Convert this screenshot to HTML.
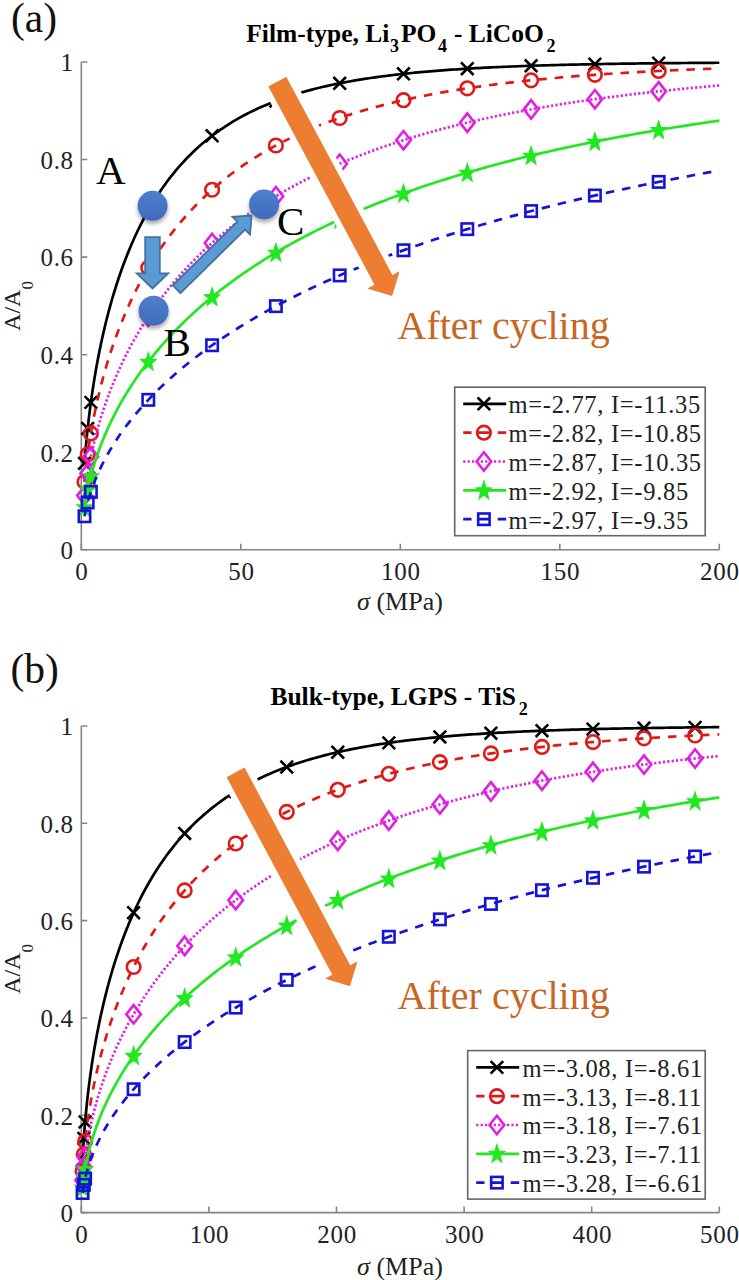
<!DOCTYPE html>
<html><head><meta charset="utf-8"><style>
html,body{margin:0;padding:0;background:#fff;width:739px;height:1280px;overflow:hidden}
svg{display:block}
text{font-family:"Liberation Serif",serif;fill:#222}
.tk{font-size:25px;letter-spacing:0.7px}
.yl{font-size:24px}
.xl{font-size:26px}
.lg{font-size:24.5px;letter-spacing:0.7px}
.big{font-size:41px;fill:#000}
.or{fill:#c8661f;font-size:40px}
.lab{font-size:41.5px;fill:#111}
.ttl{font-size:25.5px;font-weight:bold;fill:#000}
.sub{font-size:18px}
</style></head><body>
<svg width="739" height="1280" viewBox="0 0 739 1280">
<defs>
<linearGradient id="bg" x1="0" y1="0" x2="0" y2="1"><stop offset="0" stop-color="#4f7fcf"/><stop offset="1" stop-color="#3e6bbd"/></linearGradient>
<filter id="sh" x="-50%" y="-50%" width="200%" height="200%"><feGaussianBlur in="SourceAlpha" stdDeviation="2"/><feOffset dy="2.5"/><feComponentTransfer><feFuncA type="linear" slope="0.35"/></feComponentTransfer><feMerge><feMergeNode/><feMergeNode in="SourceGraphic"/></feMerge></filter>
</defs>
<rect width="739" height="1280" fill="#fff"/>
<path d="M81.3 62L81.3 549.8L719.3 549.8" stroke="#858585" stroke-width="1.6" fill="none"/>
<path d="M81.3 549.8h6M81.3 452.24h6M81.3 354.68h6M81.3 257.12h6M81.3 159.56h6M81.3 62h6M81.3 549.8v-6M240.8 549.8v-6M400.3 549.8v-6M559.8 549.8v-6M719.3 549.8v-6" stroke="#858585" stroke-width="1.6" fill="none"/>
<text x="73.8" y="559.1" text-anchor="end" class="tk">0</text>
<text x="73.8" y="461.54" text-anchor="end" class="tk">0.2</text>
<text x="73.8" y="363.98" text-anchor="end" class="tk">0.4</text>
<text x="73.8" y="266.42" text-anchor="end" class="tk">0.6</text>
<text x="73.8" y="168.86" text-anchor="end" class="tk">0.8</text>
<text x="73.8" y="71.3" text-anchor="end" class="tk">1</text>
<text x="81.9" y="580.3" text-anchor="middle" class="tk">0</text>
<text x="241.4" y="580.3" text-anchor="middle" class="tk">50</text>
<text x="400.9" y="580.3" text-anchor="middle" class="tk">100</text>
<text x="560.4" y="580.3" text-anchor="middle" class="tk">150</text>
<text x="719.9" y="580.3" text-anchor="middle" class="tk">200</text>
<path d="M84.49 463.28L84.98 457.04L85.46 451.21L85.95 445.74L86.44 440.57L86.92 435.66L87.41 430.97L87.9 426.49L88.38 422.18L88.87 418.03L89.36 414.04L89.84 410.17L90.33 406.43L90.82 402.8L91.3 399.28L91.79 395.85L92.28 392.52L92.76 389.27L93.25 386.1L93.74 383.01L94.22 379.99L94.71 377.04L95.2 374.15L95.68 371.32L96.17 368.55L96.66 365.84L97.14 363.17L97.63 360.56L98.12 358L98.6 355.49L99.09 353.01L99.57 350.59L100.06 348.2L100.55 345.85L101.03 343.54L101.52 341.27L102.01 339.03L102.49 336.83L102.98 334.67L103.47 332.53L103.95 330.43L104.44 328.35L104.93 326.31L105.41 324.29L105.9 322.3L106.39 320.34L106.87 318.41L107.36 316.5L107.85 314.62L108.33 312.76L108.82 310.92L109.31 309.11L109.79 307.32L110.28 305.55L110.77 303.8L111.25 302.08L111.74 300.37L112.23 298.69L112.71 297.02L113.2 295.38L116.25 285.48L119.29 276.24L122.34 267.57L125.38 259.41L128.43 251.72L131.47 244.45L134.52 237.56L137.57 231.02L140.61 224.82L143.66 218.91L146.7 213.28L149.75 207.91L152.79 202.79L155.84 197.89L158.89 193.2L161.93 188.71L164.98 184.42L168.02 180.3L171.07 176.34L174.11 172.55L177.16 168.91L180.21 165.41L183.25 162.04L186.3 158.8L189.34 155.69L192.39 152.69L195.43 149.8L198.48 147.02L201.53 144.34L204.57 141.75L207.62 139.26L210.66 136.86L213.71 134.54L216.75 132.3L219.8 130.14L222.85 128.05L225.89 126.03L228.94 124.09L231.98 122.2L235.03 120.39L238.07 118.63L241.12 116.93L244.17 115.29L247.21 113.7L250.26 112.16L253.3 110.67L256.35 109.23L259.39 107.84L262.44 106.49L265.49 105.18L268.53 103.92L271.58 102.69L274.62 101.51L277.67 100.36L280.72 99.24L283.76 98.17L286.81 97.12L289.85 96.11L292.9 95.13L295.94 94.18L298.99 93.25L302.04 92.36L305.08 91.49L308.13 90.65L311.17 89.84L314.22 89.05L317.26 88.28L320.31 87.54L323.36 86.81L326.4 86.11L329.45 85.44L332.49 84.78L335.54 84.14L338.58 83.52L341.63 82.91L344.68 82.33L347.72 81.76L350.77 81.21L353.81 80.68L356.86 80.16L359.9 79.65L362.95 79.16L366 78.69L369.04 78.23L372.09 77.78L375.13 77.34L378.18 76.92L381.22 76.51L384.27 76.11L387.32 75.72L390.36 75.35L393.41 74.98L396.45 74.63L399.5 74.28L402.54 73.94L405.59 73.62L408.64 73.3L411.68 72.99L414.73 72.7L417.77 72.4L420.82 72.12L423.86 71.85L426.91 71.58L429.96 71.32L433 71.07L436.05 70.82L439.09 70.59L442.14 70.35L445.18 70.13L448.23 69.91L451.28 69.7L454.32 69.49L457.37 69.29L460.41 69.09L463.46 68.9L466.5 68.72L469.55 68.54L472.6 68.36L475.64 68.19L478.69 68.03L481.73 67.87L484.78 67.71L487.82 67.56L490.87 67.41L493.92 67.27L496.96 67.13L500.01 66.99L503.05 66.86L506.1 66.73L509.14 66.6L512.19 66.48L515.24 66.36L518.28 66.25L521.33 66.13L524.37 66.02L527.42 65.92L530.46 65.81L533.51 65.71L536.56 65.62L539.6 65.52L542.65 65.43L545.69 65.34L548.74 65.25L551.78 65.16L554.83 65.08L557.88 65L560.92 64.92L563.97 64.84L567.01 64.77L570.06 64.7L573.11 64.63L576.15 64.56L579.2 64.49L582.24 64.42L585.29 64.36L588.33 64.3L591.38 64.24L594.43 64.18L597.47 64.12L600.52 64.07L603.56 64.01L606.61 63.96L609.65 63.91L612.7 63.86L615.75 63.81L618.79 63.77L621.84 63.72L624.88 63.67L627.93 63.63L630.97 63.59L634.02 63.55L637.07 63.51L640.11 63.47L643.16 63.43L646.2 63.39L649.25 63.36L652.29 63.32L655.34 63.29L658.39 63.25L661.43 63.22L664.48 63.19L667.52 63.16L670.57 63.13L673.61 63.1L676.66 63.07L679.71 63.04L682.75 63.02L685.8 62.99L688.84 62.97L691.89 62.94L694.93 62.92L697.98 62.89L701.03 62.87L704.07 62.85L707.12 62.83L710.16 62.8L713.21 62.78L716.25 62.76L719.3 62.74" stroke="#000000" stroke-width="2.7" fill="none"/>
<path d="M78.19 456.98L90.79 469.58M78.19 469.58L90.79 456.98" stroke="#000000" stroke-width="2.6" fill="none"/>
<path d="M81.38 422.16L93.98 434.76M81.38 434.76L93.98 422.16" stroke="#000000" stroke-width="2.6" fill="none"/>
<path d="M84.57 396.1L97.17 408.7M84.57 408.7L97.17 396.1" stroke="#000000" stroke-width="2.6" fill="none"/>
<path d="M141.99 204.15L154.59 216.75M141.99 216.75L154.59 204.15" stroke="#000000" stroke-width="2.6" fill="none"/>
<path d="M205.79 129.46L218.39 142.06M205.79 142.06L218.39 129.46" stroke="#000000" stroke-width="2.6" fill="none"/>
<path d="M269.59 94.72L282.19 107.32M269.59 107.32L282.19 94.72" stroke="#000000" stroke-width="2.6" fill="none"/>
<path d="M333.39 77L345.99 89.6M333.39 89.6L345.99 77" stroke="#000000" stroke-width="2.6" fill="none"/>
<path d="M397.19 67.54L409.79 80.14M397.19 80.14L409.79 67.54" stroke="#000000" stroke-width="2.6" fill="none"/>
<path d="M460.99 62.37L473.59 74.97M460.99 74.97L473.59 62.37" stroke="#000000" stroke-width="2.6" fill="none"/>
<path d="M524.79 59.49L537.39 72.09M524.79 72.09L537.39 59.49" stroke="#000000" stroke-width="2.6" fill="none"/>
<path d="M588.59 57.87L601.19 70.47M588.59 70.47L601.19 57.87" stroke="#000000" stroke-width="2.6" fill="none"/>
<path d="M652.39 56.95L664.99 69.55M652.39 69.55L664.99 56.95" stroke="#000000" stroke-width="2.6" fill="none"/>
<path d="M84.49 481.95L84.98 477.02L85.46 472.41L85.95 468.07L86.44 463.97L86.92 460.07L87.41 456.34L87.9 452.76L88.38 449.32L88.87 446.01L89.36 442.81L89.84 439.71L90.33 436.7L90.82 433.79L91.3 430.95L91.79 428.19L92.28 425.49L92.76 422.86L93.25 420.3L93.74 417.79L94.22 415.33L94.71 412.93L95.2 410.58L95.68 408.27L96.17 406L96.66 403.78L97.14 401.6L97.63 399.46L98.12 397.35L98.6 395.28L99.09 393.24L99.57 391.23L100.06 389.26L100.55 387.31L101.03 385.4L101.52 383.51L102.01 381.65L102.49 379.81L102.98 378L103.47 376.22L103.95 374.45L104.44 372.72L104.93 371L105.41 369.3L105.9 367.63L106.39 365.98L106.87 364.34L107.36 362.73L107.85 361.13L108.33 359.55L108.82 357.99L109.31 356.45L109.79 354.92L110.28 353.42L110.77 351.92L111.25 350.44L111.74 348.98L112.23 347.54L112.71 346.1L113.2 344.69L116.25 336.12L119.29 328.04L122.34 320.39L125.38 313.12L128.43 306.21L131.47 299.61L134.52 293.3L137.57 287.26L140.61 281.47L143.66 275.91L146.7 270.56L149.75 265.41L152.79 260.44L155.84 255.65L158.89 251.03L161.93 246.56L164.98 242.24L168.02 238.06L171.07 234.01L174.11 230.09L177.16 226.29L180.21 222.6L183.25 219.02L186.3 215.54L189.34 212.17L192.39 208.89L195.43 205.7L198.48 202.6L201.53 199.59L204.57 196.66L207.62 193.8L210.66 191.02L213.71 188.31L216.75 185.68L219.8 183.11L222.85 180.6L225.89 178.16L228.94 175.78L231.98 173.46L235.03 171.19L238.07 168.98L241.12 166.82L244.17 164.71L247.21 162.66L250.26 160.65L253.3 158.69L256.35 156.78L259.39 154.9L262.44 153.08L265.49 151.29L268.53 149.54L271.58 147.84L274.62 146.17L277.67 144.54L280.72 142.94L283.76 141.38L286.81 139.86L289.85 138.37L292.9 136.91L295.94 135.48L298.99 134.08L302.04 132.71L305.08 131.37L308.13 130.06L311.17 128.78L314.22 127.53L317.26 126.3L320.31 125.09L323.36 123.92L326.4 122.76L329.45 121.63L332.49 120.52L335.54 119.44L338.58 118.38L341.63 117.34L344.68 116.32L347.72 115.32L350.77 114.34L353.81 113.38L356.86 112.44L359.9 111.52L362.95 110.62L366 109.74L369.04 108.87L372.09 108.02L375.13 107.19L378.18 106.37L381.22 105.57L384.27 104.78L387.32 104.01L390.36 103.26L393.41 102.52L396.45 101.79L399.5 101.08L402.54 100.38L405.59 99.7L408.64 99.03L411.68 98.37L414.73 97.72L417.77 97.09L420.82 96.47L423.86 95.86L426.91 95.26L429.96 94.67L433 94.09L436.05 93.53L439.09 92.97L442.14 92.43L445.18 91.9L448.23 91.37L451.28 90.86L454.32 90.35L457.37 89.86L460.41 89.37L463.46 88.89L466.5 88.42L469.55 87.96L472.6 87.51L475.64 87.07L478.69 86.64L481.73 86.21L484.78 85.79L487.82 85.38L490.87 84.97L493.92 84.58L496.96 84.19L500.01 83.81L503.05 83.43L506.1 83.06L509.14 82.7L512.19 82.34L515.24 81.99L518.28 81.65L521.33 81.32L524.37 80.98L527.42 80.66L530.46 80.34L533.51 80.03L536.56 79.72L539.6 79.42L542.65 79.12L545.69 78.83L548.74 78.54L551.78 78.26L554.83 77.99L557.88 77.72L560.92 77.45L563.97 77.19L567.01 76.93L570.06 76.68L573.11 76.43L576.15 76.19L579.2 75.95L582.24 75.71L585.29 75.48L588.33 75.25L591.38 75.03L594.43 74.81L597.47 74.6L600.52 74.38L603.56 74.18L606.61 73.97L609.65 73.77L612.7 73.57L615.75 73.38L618.79 73.19L621.84 73L624.88 72.82L627.93 72.64L630.97 72.46L634.02 72.29L637.07 72.11L640.11 71.95L643.16 71.78L646.2 71.62L649.25 71.46L652.29 71.3L655.34 71.15L658.39 70.99L661.43 70.84L664.48 70.7L667.52 70.55L670.57 70.41L673.61 70.27L676.66 70.13L679.71 70L682.75 69.87L685.8 69.74L688.84 69.61L691.89 69.48L694.93 69.36L697.98 69.24L701.03 69.12L704.07 69L707.12 68.89L710.16 68.77L713.21 68.66L716.25 68.55L719.3 68.44" stroke="#e01818" stroke-width="2.7" fill="none" stroke-dasharray="8.5 8"/>
<circle cx="84.49" cy="481.95" r="6.8" stroke="#e01818" stroke-width="2.6" fill="none"/>
<circle cx="87.68" cy="454.33" r="6.8" stroke="#e01818" stroke-width="2.6" fill="none"/>
<circle cx="90.87" cy="433.47" r="6.8" stroke="#e01818" stroke-width="2.6" fill="none"/>
<circle cx="148.29" cy="267.85" r="6.8" stroke="#e01818" stroke-width="2.6" fill="none"/>
<circle cx="212.09" cy="189.74" r="6.8" stroke="#e01818" stroke-width="2.6" fill="none"/>
<circle cx="275.89" cy="145.49" r="6.8" stroke="#e01818" stroke-width="2.6" fill="none"/>
<circle cx="339.69" cy="118" r="6.8" stroke="#e01818" stroke-width="2.6" fill="none"/>
<circle cx="403.49" cy="100.17" r="6.8" stroke="#e01818" stroke-width="2.6" fill="none"/>
<circle cx="467.29" cy="88.31" r="6.8" stroke="#e01818" stroke-width="2.6" fill="none"/>
<circle cx="531.09" cy="80.28" r="6.8" stroke="#e01818" stroke-width="2.6" fill="none"/>
<circle cx="594.89" cy="74.78" r="6.8" stroke="#e01818" stroke-width="2.6" fill="none"/>
<circle cx="658.69" cy="70.98" r="6.8" stroke="#e01818" stroke-width="2.6" fill="none"/>
<path d="M84.49 495.59L84.98 491.64L85.46 487.94L85.95 484.45L86.44 481.15L86.92 478.01L87.41 475.01L87.9 472.12L88.38 469.35L88.87 466.67L89.36 464.08L89.84 461.58L90.33 459.14L90.82 456.78L91.3 454.48L91.79 452.23L92.28 450.04L92.76 447.91L93.25 445.82L93.74 443.77L94.22 441.77L94.71 439.81L95.2 437.89L95.68 436L96.17 434.15L96.66 432.33L97.14 430.54L97.63 428.78L98.12 427.05L98.6 425.35L99.09 423.67L99.57 422.02L100.06 420.4L100.55 418.79L101.03 417.21L101.52 415.65L102.01 414.12L102.49 412.6L102.98 411.1L103.47 409.62L103.95 408.16L104.44 406.71L104.93 405.29L105.41 403.88L105.9 402.49L106.39 401.11L106.87 399.75L107.36 398.4L107.85 397.07L108.33 395.75L108.82 394.44L109.31 393.15L109.79 391.87L110.28 390.61L110.77 389.35L111.25 388.11L111.74 386.88L112.23 385.67L112.71 384.46L113.2 383.27L116.25 376.02L119.29 369.15L122.34 362.62L125.38 356.37L128.43 350.4L131.47 344.67L134.52 339.17L137.57 333.87L140.61 328.75L143.66 323.82L146.7 319.05L149.75 314.43L152.79 309.95L155.84 305.61L158.89 301.4L161.93 297.31L164.98 293.33L168.02 289.46L171.07 285.69L174.11 282.02L177.16 278.44L180.21 274.95L183.25 271.55L186.3 268.23L189.34 264.99L192.39 261.82L195.43 258.72L198.48 255.7L201.53 252.74L204.57 249.84L207.62 247.01L210.66 244.23L213.71 241.52L216.75 238.86L219.8 236.25L222.85 233.7L225.89 231.2L228.94 228.75L231.98 226.34L235.03 223.98L238.07 221.67L241.12 219.4L244.17 217.17L247.21 214.98L250.26 212.84L253.3 210.73L256.35 208.66L259.39 206.62L262.44 204.63L265.49 202.67L268.53 200.74L271.58 198.84L274.62 196.98L277.67 195.15L280.72 193.35L283.76 191.58L286.81 189.85L289.85 188.14L292.9 186.45L295.94 184.8L298.99 183.17L302.04 181.57L305.08 179.99L308.13 178.44L311.17 176.92L314.22 175.42L317.26 173.94L320.31 172.48L323.36 171.05L326.4 169.64L329.45 168.25L332.49 166.89L335.54 165.54L338.58 164.21L341.63 162.91L344.68 161.62L347.72 160.36L350.77 159.11L353.81 157.88L356.86 156.67L359.9 155.48L362.95 154.3L366 153.14L369.04 152L372.09 150.88L375.13 149.77L378.18 148.67L381.22 147.6L384.27 146.53L387.32 145.49L390.36 144.46L393.41 143.44L396.45 142.44L399.5 141.45L402.54 140.47L405.59 139.51L408.64 138.56L411.68 137.63L414.73 136.71L417.77 135.8L420.82 134.9L423.86 134.02L426.91 133.14L429.96 132.28L433 131.44L436.05 130.6L439.09 129.77L442.14 128.96L445.18 128.15L448.23 127.36L451.28 126.58L454.32 125.81L457.37 125.05L460.41 124.29L463.46 123.55L466.5 122.82L469.55 122.1L472.6 121.39L475.64 120.68L478.69 119.99L481.73 119.3L484.78 118.63L487.82 117.96L490.87 117.3L493.92 116.65L496.96 116.01L500.01 115.38L503.05 114.75L506.1 114.14L509.14 113.53L512.19 112.92L515.24 112.33L518.28 111.74L521.33 111.17L524.37 110.59L527.42 110.03L530.46 109.47L533.51 108.92L536.56 108.38L539.6 107.84L542.65 107.31L545.69 106.79L548.74 106.28L551.78 105.77L554.83 105.26L557.88 104.77L560.92 104.27L563.97 103.79L567.01 103.31L570.06 102.84L573.11 102.37L576.15 101.91L579.2 101.45L582.24 101L585.29 100.56L588.33 100.12L591.38 99.69L594.43 99.26L597.47 98.83L600.52 98.42L603.56 98L606.61 97.6L609.65 97.19L612.7 96.79L615.75 96.4L618.79 96.01L621.84 95.63L624.88 95.25L627.93 94.87L630.97 94.5L634.02 94.14L637.07 93.78L640.11 93.42L643.16 93.07L646.2 92.72L649.25 92.38L652.29 92.04L655.34 91.7L658.39 91.37L661.43 91.04L664.48 90.71L667.52 90.39L670.57 90.08L673.61 89.76L676.66 89.46L679.71 89.15L682.75 88.85L685.8 88.55L688.84 88.25L691.89 87.96L694.93 87.68L697.98 87.39L701.03 87.11L704.07 86.83L707.12 86.56L710.16 86.29L713.21 86.02L716.25 85.75L719.3 85.49" stroke="#e020e0" stroke-width="2.7" fill="none" stroke-dasharray="2.2 2.2"/>
<path d="M84.49 486.39L91.79 495.59L84.49 504.79L77.19 495.59Z" stroke="#e020e0" stroke-width="2.6" fill="none"/>
<path d="M87.68 464.19L94.98 473.39L87.68 482.59L80.38 473.39Z" stroke="#e020e0" stroke-width="2.6" fill="none"/>
<path d="M90.87 447.32L98.17 456.52L90.87 465.72L83.57 456.52Z" stroke="#e020e0" stroke-width="2.6" fill="none"/>
<path d="M148.29 307.42L155.59 316.62L148.29 325.82L140.99 316.62Z" stroke="#e020e0" stroke-width="2.6" fill="none"/>
<path d="M212.09 233.76L219.39 242.96L212.09 252.16L204.79 242.96Z" stroke="#e020e0" stroke-width="2.6" fill="none"/>
<path d="M275.89 187.02L283.19 196.22L275.89 205.42L268.59 196.22Z" stroke="#e020e0" stroke-width="2.6" fill="none"/>
<path d="M339.69 154.54L346.99 163.74L339.69 172.94L332.39 163.74Z" stroke="#e020e0" stroke-width="2.6" fill="none"/>
<path d="M403.49 130.97L410.79 140.17L403.49 149.37L396.19 140.17Z" stroke="#e020e0" stroke-width="2.6" fill="none"/>
<path d="M467.29 113.43L474.59 122.63L467.29 131.83L459.99 122.63Z" stroke="#e020e0" stroke-width="2.6" fill="none"/>
<path d="M531.09 100.16L538.39 109.36L531.09 118.56L523.79 109.36Z" stroke="#e020e0" stroke-width="2.6" fill="none"/>
<path d="M594.89 89.99L602.19 99.19L594.89 108.39L587.59 99.19Z" stroke="#e020e0" stroke-width="2.6" fill="none"/>
<path d="M658.69 82.13L665.99 91.33L658.69 100.53L651.39 91.33Z" stroke="#e020e0" stroke-width="2.6" fill="none"/>
<path d="M84.49 507.12L84.98 503.99L85.46 501.07L85.95 498.32L86.44 495.71L86.92 493.22L87.41 490.84L87.9 488.56L88.38 486.36L88.87 484.23L89.36 482.18L89.84 480.19L90.33 478.25L90.82 476.37L91.3 474.54L91.79 472.76L92.28 471.02L92.76 469.31L93.25 467.65L93.74 466.02L94.22 464.42L94.71 462.85L95.2 461.32L95.68 459.81L96.17 458.33L96.66 456.87L97.14 455.44L97.63 454.03L98.12 452.64L98.6 451.27L99.09 449.93L99.57 448.6L100.06 447.3L100.55 446.01L101.03 444.73L101.52 443.48L102.01 442.24L102.49 441.02L102.98 439.81L103.47 438.62L103.95 437.44L104.44 436.27L104.93 435.12L105.41 433.98L105.9 432.85L106.39 431.74L106.87 430.63L107.36 429.54L107.85 428.46L108.33 427.39L108.82 426.33L109.31 425.28L109.79 424.24L110.28 423.21L110.77 422.19L111.25 421.18L111.74 420.18L112.23 419.19L112.71 418.2L113.2 417.23L116.25 411.31L119.29 405.67L122.34 400.29L125.38 395.13L128.43 390.17L131.47 385.4L134.52 380.81L137.57 376.36L140.61 372.06L143.66 367.89L146.7 363.85L149.75 359.92L152.79 356.1L155.84 352.39L158.89 348.77L161.93 345.24L164.98 341.79L168.02 338.43L171.07 335.14L174.11 331.93L177.16 328.79L180.21 325.72L183.25 322.71L186.3 319.76L189.34 316.87L192.39 314.04L195.43 311.27L198.48 308.54L201.53 305.87L204.57 303.24L207.62 300.67L210.66 298.13L213.71 295.65L216.75 293.2L219.8 290.8L222.85 288.43L225.89 286.11L228.94 283.82L231.98 281.57L235.03 279.35L238.07 277.17L241.12 275.02L244.17 272.91L247.21 270.82L250.26 268.77L253.3 266.75L256.35 264.75L259.39 262.79L262.44 260.85L265.49 258.94L268.53 257.06L271.58 255.2L274.62 253.37L277.67 251.56L280.72 249.78L283.76 248.02L286.81 246.29L289.85 244.57L292.9 242.88L295.94 241.22L298.99 239.57L302.04 237.94L305.08 236.34L308.13 234.75L311.17 233.18L314.22 231.64L317.26 230.11L320.31 228.6L323.36 227.11L326.4 225.63L329.45 224.18L332.49 222.74L335.54 221.32L338.58 219.91L341.63 218.52L344.68 217.15L347.72 215.79L350.77 214.45L353.81 213.12L356.86 211.81L359.9 210.52L362.95 209.23L366 207.97L369.04 206.71L372.09 205.47L375.13 204.24L378.18 203.03L381.22 201.83L384.27 200.64L387.32 199.47L390.36 198.31L393.41 197.16L396.45 196.02L399.5 194.9L402.54 193.78L405.59 192.68L408.64 191.59L411.68 190.51L414.73 189.44L417.77 188.39L420.82 187.34L423.86 186.3L426.91 185.28L429.96 184.26L433 183.26L436.05 182.27L439.09 181.28L442.14 180.31L445.18 179.34L448.23 178.39L451.28 177.44L454.32 176.5L457.37 175.58L460.41 174.66L463.46 173.75L466.5 172.85L469.55 171.96L472.6 171.07L475.64 170.2L478.69 169.33L481.73 168.47L484.78 167.62L487.82 166.78L490.87 165.95L493.92 165.12L496.96 164.3L500.01 163.49L503.05 162.69L506.1 161.89L509.14 161.11L512.19 160.32L515.24 159.55L518.28 158.78L521.33 158.03L524.37 157.27L527.42 156.53L530.46 155.79L533.51 155.06L536.56 154.33L539.6 153.61L542.65 152.9L545.69 152.19L548.74 151.49L551.78 150.8L554.83 150.11L557.88 149.43L560.92 148.76L563.97 148.09L567.01 147.43L570.06 146.77L573.11 146.12L576.15 145.47L579.2 144.83L582.24 144.2L585.29 143.57L588.33 142.95L591.38 142.33L594.43 141.72L597.47 141.11L600.52 140.51L603.56 139.91L606.61 139.32L609.65 138.74L612.7 138.15L615.75 137.58L618.79 137.01L621.84 136.44L624.88 135.88L627.93 135.32L630.97 134.77L634.02 134.22L637.07 133.68L640.11 133.14L643.16 132.61L646.2 132.08L649.25 131.56L652.29 131.04L655.34 130.52L658.39 130.01L661.43 129.5L664.48 129L667.52 128.5L670.57 128.01L673.61 127.52L676.66 127.03L679.71 126.55L682.75 126.07L685.8 125.59L688.84 125.12L691.89 124.66L694.93 124.19L697.98 123.74L701.03 123.28L704.07 122.83L707.12 122.38L710.16 121.94L713.21 121.5L716.25 121.06L719.3 120.63" stroke="#22e822" stroke-width="2.7" fill="none"/>
<path d="M84.49 499.42L86.24 504.89L91.2 505.15L87.32 508.8L88.64 514.43L84.49 511.22L80.34 514.43L81.66 508.8L77.78 505.15L82.74 504.89Z" stroke="#22e822" stroke-width="2" fill="#22e822" stroke-linejoin="miter"/>
<path d="M87.68 481.86L89.43 487.33L94.39 487.59L90.51 491.24L91.83 496.87L87.68 493.66L83.53 496.87L84.85 491.24L80.97 487.59L85.93 487.33Z" stroke="#22e822" stroke-width="2" fill="#22e822" stroke-linejoin="miter"/>
<path d="M90.87 468.47L92.62 473.94L97.58 474.2L93.7 477.85L95.02 483.48L90.87 480.27L86.72 483.48L88.04 477.85L84.16 474.2L89.12 473.94Z" stroke="#22e822" stroke-width="2" fill="#22e822" stroke-linejoin="miter"/>
<path d="M148.29 354.09L150.04 359.56L155 359.82L151.12 363.47L152.44 369.1L148.29 365.89L144.14 369.1L145.46 363.47L141.58 359.82L146.54 359.56Z" stroke="#22e822" stroke-width="2" fill="#22e822" stroke-linejoin="miter"/>
<path d="M212.09 289.26L213.84 294.73L218.8 295L214.92 298.64L216.24 304.28L212.09 301.06L207.94 304.28L209.26 298.64L205.38 295L210.34 294.73Z" stroke="#22e822" stroke-width="2" fill="#22e822" stroke-linejoin="miter"/>
<path d="M275.89 244.92L277.64 250.39L282.6 250.65L278.72 254.3L280.04 259.93L275.89 256.72L271.74 259.93L273.06 254.3L269.18 250.65L274.14 250.39Z" stroke="#22e822" stroke-width="2" fill="#22e822" stroke-linejoin="miter"/>
<path d="M339.69 211.7L341.44 217.17L346.4 217.44L342.52 221.09L343.84 226.72L339.69 223.5L335.54 226.72L336.86 221.09L332.98 217.44L337.94 217.17Z" stroke="#22e822" stroke-width="2" fill="#22e822" stroke-linejoin="miter"/>
<path d="M403.49 185.74L405.24 191.21L410.2 191.47L406.32 195.12L407.64 200.75L403.49 197.54L399.34 200.75L400.66 195.12L396.78 191.47L401.74 191.21Z" stroke="#22e822" stroke-width="2" fill="#22e822" stroke-linejoin="miter"/>
<path d="M467.29 164.92L469.04 170.39L474 170.65L470.12 174.3L471.44 179.93L467.29 176.72L463.14 179.93L464.46 174.3L460.58 170.65L465.54 170.39Z" stroke="#22e822" stroke-width="2" fill="#22e822" stroke-linejoin="miter"/>
<path d="M531.09 147.94L532.84 153.41L537.8 153.67L533.92 157.32L535.24 162.95L531.09 159.74L526.94 162.95L528.26 157.32L524.38 153.67L529.34 153.41Z" stroke="#22e822" stroke-width="2" fill="#22e822" stroke-linejoin="miter"/>
<path d="M594.89 133.93L596.64 139.39L601.6 139.66L597.72 143.31L599.04 148.94L594.89 145.73L590.74 148.94L592.06 143.31L588.18 139.66L593.14 139.39Z" stroke="#22e822" stroke-width="2" fill="#22e822" stroke-linejoin="miter"/>
<path d="M658.69 122.26L660.44 127.73L665.4 127.99L661.52 131.64L662.84 137.27L658.69 134.06L654.54 137.27L655.86 131.64L651.98 127.99L656.94 127.73Z" stroke="#22e822" stroke-width="2" fill="#22e822" stroke-linejoin="miter"/>
<path d="M84.49 516.27L84.98 513.81L85.46 511.5L85.95 509.34L86.44 507.28L86.92 505.32L87.41 503.44L87.9 501.64L88.38 499.91L88.87 498.23L89.36 496.61L89.84 495.04L90.33 493.51L90.82 492.02L91.3 490.58L91.79 489.16L92.28 487.78L92.76 486.44L93.25 485.12L93.74 483.83L94.22 482.56L94.71 481.32L95.2 480.1L95.68 478.9L96.17 477.73L96.66 476.57L97.14 475.44L97.63 474.32L98.12 473.21L98.6 472.13L99.09 471.06L99.57 470L100.06 468.96L100.55 467.94L101.03 466.92L101.52 465.92L102.01 464.94L102.49 463.96L102.98 463L103.47 462.05L103.95 461.11L104.44 460.18L104.93 459.25L105.41 458.34L105.9 457.44L106.39 456.55L106.87 455.67L107.36 454.8L107.85 453.93L108.33 453.07L108.82 452.23L109.31 451.39L109.79 450.55L110.28 449.73L110.77 448.91L111.25 448.1L111.74 447.3L112.23 446.5L112.71 445.71L113.2 444.93L116.25 440.16L119.29 435.62L122.34 431.27L125.38 427.09L128.43 423.07L131.47 419.19L134.52 415.44L137.57 411.81L140.61 408.29L143.66 404.87L146.7 401.55L149.75 398.31L152.79 395.16L155.84 392.08L158.89 389.08L161.93 386.14L164.98 383.27L168.02 380.46L171.07 377.71L174.11 375.02L177.16 372.38L180.21 369.79L183.25 367.25L186.3 364.75L189.34 362.3L192.39 359.9L195.43 357.53L198.48 355.21L201.53 352.92L204.57 350.67L207.62 348.45L210.66 346.27L213.71 344.12L216.75 342.01L219.8 339.92L222.85 337.87L225.89 335.84L228.94 333.84L231.98 331.87L235.03 329.93L238.07 328.01L241.12 326.12L244.17 324.26L247.21 322.41L250.26 320.59L253.3 318.79L256.35 317.02L259.39 315.27L262.44 313.53L265.49 311.82L268.53 310.13L271.58 308.46L274.62 306.81L277.67 305.17L280.72 303.56L283.76 301.96L286.81 300.38L289.85 298.82L292.9 297.27L295.94 295.74L298.99 294.23L302.04 292.73L305.08 291.25L308.13 289.78L311.17 288.33L314.22 286.89L317.26 285.47L320.31 284.06L323.36 282.67L326.4 281.29L329.45 279.92L332.49 278.57L335.54 277.23L338.58 275.9L341.63 274.58L344.68 273.28L347.72 271.99L350.77 270.71L353.81 269.44L356.86 268.18L359.9 266.94L362.95 265.7L366 264.48L369.04 263.27L372.09 262.07L375.13 260.88L378.18 259.7L381.22 258.53L384.27 257.37L387.32 256.22L390.36 255.08L393.41 253.95L396.45 252.82L399.5 251.71L402.54 250.61L405.59 249.52L408.64 248.43L411.68 247.36L414.73 246.29L417.77 245.23L420.82 244.18L423.86 243.14L426.91 242.11L429.96 241.08L433 240.07L436.05 239.06L439.09 238.06L442.14 237.06L445.18 236.08L448.23 235.1L451.28 234.13L454.32 233.17L457.37 232.21L460.41 231.26L463.46 230.32L466.5 229.39L469.55 228.46L472.6 227.54L475.64 226.62L478.69 225.72L481.73 224.82L484.78 223.92L487.82 223.04L490.87 222.16L493.92 221.28L496.96 220.42L500.01 219.55L503.05 218.7L506.1 217.85L509.14 217.01L512.19 216.17L515.24 215.34L518.28 214.51L521.33 213.69L524.37 212.88L527.42 212.07L530.46 211.27L533.51 210.47L536.56 209.68L539.6 208.89L542.65 208.11L545.69 207.34L548.74 206.57L551.78 205.8L554.83 205.04L557.88 204.29L560.92 203.54L563.97 202.79L567.01 202.05L570.06 201.32L573.11 200.59L576.15 199.86L579.2 199.14L582.24 198.43L585.29 197.72L588.33 197.01L591.38 196.31L594.43 195.61L597.47 194.92L600.52 194.23L603.56 193.55L606.61 192.87L609.65 192.19L612.7 191.52L615.75 190.86L618.79 190.2L621.84 189.54L624.88 188.89L627.93 188.24L630.97 187.59L634.02 186.95L637.07 186.31L640.11 185.68L643.16 185.05L646.2 184.43L649.25 183.8L652.29 183.19L655.34 182.57L658.39 181.96L661.43 181.36L664.48 180.76L667.52 180.16L670.57 179.56L673.61 178.97L676.66 178.38L679.71 177.8L682.75 177.22L685.8 176.64L688.84 176.07L691.89 175.5L694.93 174.93L697.98 174.37L701.03 173.81L704.07 173.25L707.12 172.7L710.16 172.15L713.21 171.6L716.25 171.06L719.3 170.52" stroke="#1414d8" stroke-width="2.7" fill="none" stroke-dasharray="8.5 8"/>
<rect x="78.79" y="510.57" width="11.4" height="11.4" stroke="#1414d8" stroke-width="2.6" fill="none"/>
<rect x="81.98" y="496.73" width="11.4" height="11.4" stroke="#1414d8" stroke-width="2.6" fill="none"/>
<rect x="85.17" y="486.16" width="11.4" height="11.4" stroke="#1414d8" stroke-width="2.6" fill="none"/>
<rect x="142.59" y="394.15" width="11.4" height="11.4" stroke="#1414d8" stroke-width="2.6" fill="none"/>
<rect x="206.39" y="339.56" width="11.4" height="11.4" stroke="#1414d8" stroke-width="2.6" fill="none"/>
<rect x="270.19" y="300.42" width="11.4" height="11.4" stroke="#1414d8" stroke-width="2.6" fill="none"/>
<rect x="333.99" y="269.72" width="11.4" height="11.4" stroke="#1414d8" stroke-width="2.6" fill="none"/>
<rect x="397.79" y="244.57" width="11.4" height="11.4" stroke="#1414d8" stroke-width="2.6" fill="none"/>
<rect x="461.59" y="223.45" width="11.4" height="11.4" stroke="#1414d8" stroke-width="2.6" fill="none"/>
<rect x="525.39" y="205.4" width="11.4" height="11.4" stroke="#1414d8" stroke-width="2.6" fill="none"/>
<rect x="589.19" y="189.81" width="11.4" height="11.4" stroke="#1414d8" stroke-width="2.6" fill="none"/>
<rect x="652.99" y="176.2" width="11.4" height="11.4" stroke="#1414d8" stroke-width="2.6" fill="none"/>
<rect x="454.7" y="387.2" width="250.5" height="148.5" fill="#fff" stroke="#666" stroke-width="1.6"/>
<path d="M463.2 403.8H506.2" stroke="#000000" stroke-width="2.7"/>
<path d="M477.6 397.5L490.2 410.1M477.6 410.1L490.2 397.5" stroke="#000000" stroke-width="2.6" fill="none"/>
<text x="508.5" y="413.1" class="lg">m=-2.77, I=-11.35</text>
<path d="M463.2 432.65h8.3M497.7 432.65h8.5M477.9 432.65h12" stroke="#e01818" stroke-width="2.7"/>
<circle cx="483.9" cy="432.65" r="6.8" stroke="#e01818" stroke-width="2.6" fill="none"/>
<text x="508.5" y="441.95" class="lg">m=-2.82, I=-10.85</text>
<path d="M463.2 461.5H506.2" stroke="#e020e0" stroke-width="2.7" stroke-dasharray="2.2 2.2"/>
<path d="M483.9 452.3L491.2 461.5L483.9 470.7L476.6 461.5Z" stroke="#e020e0" stroke-width="2.6" fill="none"/>
<text x="508.5" y="470.8" class="lg">m=-2.87, I=-10.35</text>
<path d="M463.2 490.35H506.2" stroke="#22e822" stroke-width="2.7"/>
<path d="M483.9 482.65L485.65 488.12L490.61 488.39L486.73 492.03L488.05 497.66L483.9 494.45L479.75 497.66L481.07 492.03L477.19 488.39L482.15 488.12Z" stroke="#22e822" stroke-width="2" fill="#22e822" stroke-linejoin="miter"/>
<text x="508.5" y="499.65" class="lg">m=-2.92, I=-9.85</text>
<path d="M463.2 519.2h8.3M497.7 519.2h8.5M477.9 519.2h12" stroke="#1414d8" stroke-width="2.7"/>
<rect x="478.2" y="513.5" width="11.4" height="11.4" stroke="#1414d8" stroke-width="2.6" fill="none"/>
<text x="508.5" y="528.5" class="lg">m=-2.97, I=-9.35</text>
<path d="M81.3 726L81.3 1212.6L719.3 1212.6" stroke="#858585" stroke-width="1.6" fill="none"/>
<path d="M81.3 1212.6h6M81.3 1115.28h6M81.3 1017.96h6M81.3 920.64h6M81.3 823.32h6M81.3 726h6M81.3 1212.6v-6M208.9 1212.6v-6M336.5 1212.6v-6M464.1 1212.6v-6M591.7 1212.6v-6M719.3 1212.6v-6" stroke="#858585" stroke-width="1.6" fill="none"/>
<text x="73.8" y="1221.9" text-anchor="end" class="tk">0</text>
<text x="73.8" y="1124.58" text-anchor="end" class="tk">0.2</text>
<text x="73.8" y="1027.26" text-anchor="end" class="tk">0.4</text>
<text x="73.8" y="929.94" text-anchor="end" class="tk">0.6</text>
<text x="73.8" y="832.62" text-anchor="end" class="tk">0.8</text>
<text x="73.8" y="735.3" text-anchor="end" class="tk">1</text>
<text x="81.9" y="1243.1" text-anchor="middle" class="tk">0</text>
<text x="209.5" y="1243.1" text-anchor="middle" class="tk">100</text>
<text x="337.1" y="1243.1" text-anchor="middle" class="tk">200</text>
<text x="464.7" y="1243.1" text-anchor="middle" class="tk">300</text>
<text x="592.3" y="1243.1" text-anchor="middle" class="tk">400</text>
<text x="719.9" y="1243.1" text-anchor="middle" class="tk">500</text>
<path d="M82.58 1159.94L82.77 1156.09L82.97 1152.5L83.16 1149.11L83.35 1145.91L83.55 1142.85L83.74 1139.93L83.94 1137.13L84.13 1134.43L84.33 1131.83L84.52 1129.31L84.72 1126.87L84.91 1124.5L85.11 1122.2L85.3 1119.96L85.5 1117.78L85.69 1115.65L85.88 1113.57L86.08 1111.54L86.27 1109.55L86.47 1107.6L86.66 1105.69L86.86 1103.82L87.05 1101.99L87.25 1100.18L87.44 1098.41L87.64 1096.67L87.83 1094.96L88.03 1093.27L88.22 1091.61L88.42 1089.98L88.61 1088.37L88.8 1086.79L89 1085.23L89.19 1083.69L89.39 1082.17L89.58 1080.67L89.78 1079.19L89.97 1077.73L90.17 1076.29L90.36 1074.86L90.56 1073.46L90.75 1072.07L90.95 1070.69L91.14 1069.33L91.33 1067.99L91.53 1066.66L91.72 1065.35L91.92 1064.05L92.11 1062.76L92.31 1061.49L92.5 1060.23L92.7 1058.98L92.89 1057.75L93.09 1056.52L93.28 1055.31L93.48 1054.11L93.67 1052.92L93.87 1051.75L94.06 1050.58L97.2 1033.06L100.34 1017.56L103.49 1003.62L106.63 990.92L109.77 979.26L112.91 968.48L116.05 958.45L119.2 949.08L122.34 940.29L125.48 932.03L128.62 924.24L131.76 916.86L134.9 909.88L138.05 903.25L141.19 896.95L144.33 890.95L147.47 885.23L150.61 879.77L153.76 874.55L156.9 869.56L160.04 864.78L163.18 860.2L166.32 855.81L169.47 851.6L172.61 847.55L175.75 843.66L178.89 839.93L182.03 836.33L185.18 832.87L188.32 829.54L191.46 826.34L194.6 823.25L197.74 820.27L200.88 817.39L204.03 814.62L207.17 811.95L210.31 809.36L213.45 806.87L216.59 804.46L219.74 802.14L222.88 799.89L226.02 797.71L229.16 795.61L232.3 793.58L235.45 791.61L238.59 789.71L241.73 787.87L244.87 786.08L248.01 784.36L251.16 782.69L254.3 781.07L257.44 779.5L260.58 777.98L263.72 776.51L266.87 775.08L270.01 773.7L273.15 772.36L276.29 771.06L279.43 769.8L282.57 768.58L285.72 767.4L288.86 766.25L292 765.13L295.14 764.05L298.28 763L301.43 761.99L304.57 761L307.71 760.04L310.85 759.11L313.99 758.2L317.14 757.33L320.28 756.47L323.42 755.65L326.56 754.84L329.7 754.06L332.85 753.3L335.99 752.57L339.13 751.85L342.27 751.16L345.41 750.48L348.55 749.83L351.7 749.19L354.84 748.57L357.98 747.97L361.12 747.38L364.26 746.81L367.41 746.26L370.55 745.72L373.69 745.2L376.83 744.69L379.97 744.2L383.12 743.72L386.26 743.25L389.4 742.79L392.54 742.35L395.68 741.92L398.83 741.5L401.97 741.1L405.11 740.7L408.25 740.32L411.39 739.94L414.53 739.58L417.68 739.23L420.82 738.88L423.96 738.55L427.1 738.22L430.24 737.9L433.39 737.59L436.53 737.29L439.67 737L442.81 736.72L445.95 736.44L449.1 736.17L452.24 735.91L455.38 735.65L458.52 735.4L461.66 735.16L464.81 734.93L467.95 734.7L471.09 734.47L474.23 734.26L477.37 734.05L480.51 733.84L483.66 733.64L486.8 733.44L489.94 733.25L493.08 733.07L496.22 732.89L499.37 732.71L502.51 732.54L505.65 732.38L508.79 732.21L511.93 732.06L515.08 731.9L518.22 731.75L521.36 731.61L524.5 731.46L527.64 731.33L530.79 731.19L533.93 731.06L537.07 730.93L540.21 730.81L543.35 730.69L546.49 730.57L549.64 730.45L552.78 730.34L555.92 730.23L559.06 730.12L562.2 730.02L565.35 729.92L568.49 729.82L571.63 729.72L574.77 729.63L577.91 729.54L581.06 729.45L584.2 729.37L587.34 729.28L590.48 729.2L593.62 729.12L596.77 729.04L599.91 728.96L603.05 728.89L606.19 728.82L609.33 728.75L612.48 728.68L615.62 728.61L618.76 728.55L621.9 728.48L625.04 728.42L628.18 728.36L631.33 728.3L634.47 728.25L637.61 728.19L640.75 728.14L643.89 728.08L647.04 728.03L650.18 727.98L653.32 727.93L656.46 727.88L659.6 727.84L662.75 727.79L665.89 727.75L669.03 727.7L672.17 727.66L675.31 727.62L678.46 727.58L681.6 727.54L684.74 727.5L687.88 727.47L691.02 727.43L694.16 727.4L697.31 727.36L700.45 727.33L703.59 727.29L706.73 727.26L709.87 727.23L713.02 727.2L716.16 727.17L719.3 727.14" stroke="#000000" stroke-width="2.7" fill="none"/>
<path d="M76.28 1153.64L88.88 1166.24M76.28 1166.24L88.88 1153.64" stroke="#000000" stroke-width="2.6" fill="none"/>
<path d="M77.55 1132.06L90.15 1144.66M77.55 1144.66L90.15 1132.06" stroke="#000000" stroke-width="2.6" fill="none"/>
<path d="M78.83 1115.65L91.43 1128.25M78.83 1128.25L91.43 1115.65" stroke="#000000" stroke-width="2.6" fill="none"/>
<path d="M127.32 906.4L139.92 919M127.32 919L139.92 906.4" stroke="#000000" stroke-width="2.6" fill="none"/>
<path d="M178.36 827.14L190.96 839.74M178.36 839.74L190.96 827.14" stroke="#000000" stroke-width="2.6" fill="none"/>
<path d="M229.4 785.16L242 797.76M229.4 797.76L242 785.16" stroke="#000000" stroke-width="2.6" fill="none"/>
<path d="M280.44 760.72L293.04 773.32M280.44 773.32L293.04 760.72" stroke="#000000" stroke-width="2.6" fill="none"/>
<path d="M331.48 745.86L344.08 758.46M331.48 758.46L344.08 745.86" stroke="#000000" stroke-width="2.6" fill="none"/>
<path d="M382.52 736.58L395.12 749.18M382.52 749.18L395.12 736.58" stroke="#000000" stroke-width="2.6" fill="none"/>
<path d="M433.56 730.68L446.16 743.28M433.56 743.28L446.16 730.68" stroke="#000000" stroke-width="2.6" fill="none"/>
<path d="M484.6 726.9L497.2 739.5M484.6 739.5L497.2 726.9" stroke="#000000" stroke-width="2.6" fill="none"/>
<path d="M535.64 724.44L548.24 737.04M535.64 737.04L548.24 724.44" stroke="#000000" stroke-width="2.6" fill="none"/>
<path d="M586.68 722.84L599.28 735.44M586.68 735.44L599.28 722.84" stroke="#000000" stroke-width="2.6" fill="none"/>
<path d="M637.72 721.78L650.32 734.38M637.72 734.38L650.32 721.78" stroke="#000000" stroke-width="2.6" fill="none"/>
<path d="M688.76 721.09L701.36 733.69M688.76 733.69L701.36 721.09" stroke="#000000" stroke-width="2.6" fill="none"/>
<path d="M82.58 1171.33L82.77 1168.31L82.97 1165.48L83.16 1162.82L83.35 1160.3L83.55 1157.89L83.74 1155.59L83.94 1153.38L84.13 1151.25L84.33 1149.2L84.52 1147.21L84.72 1145.28L84.91 1143.41L85.11 1141.59L85.3 1139.82L85.5 1138.09L85.69 1136.4L85.88 1134.76L86.08 1133.14L86.27 1131.57L86.47 1130.02L86.66 1128.5L86.86 1127.01L87.05 1125.55L87.25 1124.12L87.44 1122.71L87.64 1121.32L87.83 1119.96L88.03 1118.61L88.22 1117.29L88.42 1115.99L88.61 1114.7L88.8 1113.44L89 1112.19L89.19 1110.95L89.39 1109.74L89.58 1108.54L89.78 1107.35L89.97 1106.18L90.17 1105.02L90.36 1103.88L90.56 1102.75L90.75 1101.63L90.95 1100.53L91.14 1099.44L91.33 1098.35L91.53 1097.28L91.72 1096.23L91.92 1095.18L92.11 1094.14L92.31 1093.11L92.5 1092.1L92.7 1091.09L92.89 1090.09L93.09 1089.1L93.28 1088.12L93.48 1087.15L93.67 1086.19L93.87 1085.23L94.06 1084.29L97.2 1070.01L100.34 1057.27L103.49 1045.7L106.63 1035.08L109.77 1025.24L112.91 1016.06L116.05 1007.44L119.2 999.32L122.34 991.64L125.48 984.35L128.62 977.41L131.76 970.79L134.9 964.46L138.05 958.4L141.19 952.59L144.33 947.01L147.47 941.64L150.61 936.47L153.76 931.49L156.9 926.68L160.04 922.03L163.18 917.54L166.32 913.19L169.47 908.99L172.61 904.91L175.75 900.97L178.89 897.14L182.03 893.42L185.18 889.81L188.32 886.31L191.46 882.9L194.6 879.59L197.74 876.37L200.88 873.24L204.03 870.19L207.17 867.22L210.31 864.33L213.45 861.51L216.59 858.77L219.74 856.09L222.88 853.48L226.02 850.94L229.16 848.46L232.3 846.03L235.45 843.67L238.59 841.36L241.73 839.11L244.87 836.91L248.01 834.76L251.16 832.67L254.3 830.62L257.44 828.61L260.58 826.65L263.72 824.74L266.87 822.87L270.01 821.04L273.15 819.25L276.29 817.5L279.43 815.79L282.57 814.11L285.72 812.47L288.86 810.87L292 809.3L295.14 807.76L298.28 806.26L301.43 804.78L304.57 803.34L307.71 801.93L310.85 800.55L313.99 799.19L317.14 797.87L320.28 796.57L323.42 795.29L326.56 794.05L329.7 792.82L332.85 791.63L335.99 790.45L339.13 789.3L342.27 788.18L345.41 787.07L348.55 785.99L351.7 784.93L354.84 783.88L357.98 782.86L361.12 781.86L364.26 780.88L367.41 779.92L370.55 778.97L373.69 778.05L376.83 777.14L379.97 776.25L383.12 775.37L386.26 774.52L389.4 773.68L392.54 772.85L395.68 772.04L398.83 771.25L401.97 770.47L405.11 769.7L408.25 768.95L411.39 768.21L414.53 767.49L417.68 766.78L420.82 766.08L423.96 765.4L427.1 764.73L430.24 764.07L433.39 763.42L436.53 762.79L439.67 762.16L442.81 761.55L445.95 760.95L449.1 760.36L452.24 759.78L455.38 759.21L458.52 758.65L461.66 758.1L464.81 757.56L467.95 757.04L471.09 756.52L474.23 756.01L477.37 755.5L480.51 755.01L483.66 754.53L486.8 754.05L489.94 753.58L493.08 753.13L496.22 752.68L499.37 752.23L502.51 751.8L505.65 751.37L508.79 750.95L511.93 750.54L515.08 750.13L518.22 749.73L521.36 749.34L524.5 748.96L527.64 748.58L530.79 748.21L533.93 747.85L537.07 747.49L540.21 747.13L543.35 746.79L546.49 746.45L549.64 746.11L552.78 745.78L555.92 745.46L559.06 745.14L562.2 744.83L565.35 744.53L568.49 744.22L571.63 743.93L574.77 743.64L577.91 743.35L581.06 743.07L584.2 742.79L587.34 742.52L590.48 742.25L593.62 741.99L596.77 741.73L599.91 741.48L603.05 741.23L606.19 740.98L609.33 740.74L612.48 740.5L615.62 740.27L618.76 740.04L621.9 739.81L625.04 739.59L628.18 739.37L631.33 739.16L634.47 738.95L637.61 738.74L640.75 738.54L643.89 738.33L647.04 738.14L650.18 737.94L653.32 737.75L656.46 737.56L659.6 737.38L662.75 737.2L665.89 737.02L669.03 736.84L672.17 736.67L675.31 736.5L678.46 736.33L681.6 736.17L684.74 736.01L687.88 735.85L691.02 735.69L694.16 735.54L697.31 735.39L700.45 735.24L703.59 735.09L706.73 734.95L709.87 734.81L713.02 734.67L716.16 734.53L719.3 734.4" stroke="#e01818" stroke-width="2.7" fill="none" stroke-dasharray="8.5 8"/>
<circle cx="82.58" cy="1171.33" r="6.8" stroke="#e01818" stroke-width="2.6" fill="none"/>
<circle cx="83.85" cy="1154.35" r="6.8" stroke="#e01818" stroke-width="2.6" fill="none"/>
<circle cx="85.13" cy="1141.39" r="6.8" stroke="#e01818" stroke-width="2.6" fill="none"/>
<circle cx="133.62" cy="967.02" r="6.8" stroke="#e01818" stroke-width="2.6" fill="none"/>
<circle cx="184.66" cy="890.4" r="6.8" stroke="#e01818" stroke-width="2.6" fill="none"/>
<circle cx="235.7" cy="843.49" r="6.8" stroke="#e01818" stroke-width="2.6" fill="none"/>
<circle cx="286.74" cy="811.95" r="6.8" stroke="#e01818" stroke-width="2.6" fill="none"/>
<circle cx="337.78" cy="789.8" r="6.8" stroke="#e01818" stroke-width="2.6" fill="none"/>
<circle cx="388.82" cy="773.83" r="6.8" stroke="#e01818" stroke-width="2.6" fill="none"/>
<circle cx="439.86" cy="762.13" r="6.8" stroke="#e01818" stroke-width="2.6" fill="none"/>
<circle cx="490.9" cy="753.44" r="6.8" stroke="#e01818" stroke-width="2.6" fill="none"/>
<circle cx="541.94" cy="746.94" r="6.8" stroke="#e01818" stroke-width="2.6" fill="none"/>
<circle cx="592.98" cy="742.04" r="6.8" stroke="#e01818" stroke-width="2.6" fill="none"/>
<circle cx="644.02" cy="738.33" r="6.8" stroke="#e01818" stroke-width="2.6" fill="none"/>
<circle cx="695.06" cy="735.5" r="6.8" stroke="#e01818" stroke-width="2.6" fill="none"/>
<path d="M82.58 1180.19L82.77 1177.81L82.97 1175.59L83.16 1173.49L83.35 1171.5L83.55 1169.61L83.74 1167.79L83.94 1166.05L84.13 1164.37L84.33 1162.75L84.52 1161.18L84.72 1159.66L84.91 1158.19L85.11 1156.75L85.3 1155.35L85.5 1153.98L85.69 1152.65L85.88 1151.34L86.08 1150.07L86.27 1148.82L86.47 1147.6L86.66 1146.39L86.86 1145.22L87.05 1144.06L87.25 1142.92L87.44 1141.8L87.64 1140.7L87.83 1139.62L88.03 1138.55L88.22 1137.5L88.42 1136.47L88.61 1135.45L88.8 1134.44L89 1133.45L89.19 1132.47L89.39 1131.5L89.58 1130.54L89.78 1129.6L89.97 1128.67L90.17 1127.74L90.36 1126.83L90.56 1125.93L90.75 1125.04L90.95 1124.16L91.14 1123.29L91.33 1122.43L91.53 1121.57L91.72 1120.73L91.92 1119.89L92.11 1119.06L92.31 1118.24L92.5 1117.42L92.7 1116.62L92.89 1115.82L93.09 1115.03L93.28 1114.24L93.48 1113.46L93.67 1112.69L93.87 1111.93L94.06 1111.17L97.2 1099.69L100.34 1089.38L103.49 1079.98L106.63 1071.3L109.77 1063.21L112.91 1055.63L116.05 1048.47L119.2 1041.69L122.34 1035.24L125.48 1029.09L128.62 1023.2L131.76 1017.55L134.9 1012.12L138.05 1006.9L141.19 1001.86L144.33 997L147.47 992.29L150.61 987.74L153.76 983.32L156.9 979.04L160.04 974.88L163.18 970.84L166.32 966.9L169.47 963.08L172.61 959.35L175.75 955.72L178.89 952.18L182.03 948.72L185.18 945.35L188.32 942.06L191.46 938.84L194.6 935.7L197.74 932.62L200.88 929.61L204.03 926.67L207.17 923.79L210.31 920.97L213.45 918.21L216.59 915.5L219.74 912.85L222.88 910.25L226.02 907.7L229.16 905.2L232.3 902.75L235.45 900.34L238.59 897.98L241.73 895.66L244.87 893.39L248.01 891.15L251.16 888.96L254.3 886.8L257.44 884.68L260.58 882.6L263.72 880.56L266.87 878.55L270.01 876.57L273.15 874.63L276.29 872.72L279.43 870.84L282.57 868.99L285.72 867.17L288.86 865.38L292 863.62L295.14 861.89L298.28 860.18L301.43 858.5L304.57 856.85L307.71 855.22L310.85 853.62L313.99 852.05L317.14 850.49L320.28 848.96L323.42 847.46L326.56 845.97L329.7 844.51L332.85 843.07L335.99 841.65L339.13 840.26L342.27 838.88L345.41 837.52L348.55 836.18L351.7 834.86L354.84 833.56L357.98 832.28L361.12 831.02L364.26 829.77L367.41 828.55L370.55 827.34L373.69 826.14L376.83 824.97L379.97 823.8L383.12 822.66L386.26 821.53L389.4 820.42L392.54 819.32L395.68 818.23L398.83 817.16L401.97 816.11L405.11 815.07L408.25 814.04L411.39 813.03L414.53 812.03L417.68 811.04L420.82 810.07L423.96 809.11L427.1 808.16L430.24 807.23L433.39 806.3L436.53 805.39L439.67 804.49L442.81 803.6L445.95 802.73L449.1 801.86L452.24 801.01L455.38 800.16L458.52 799.33L461.66 798.51L464.81 797.7L467.95 796.9L471.09 796.1L474.23 795.32L477.37 794.55L480.51 793.79L483.66 793.04L486.8 792.29L489.94 791.56L493.08 790.83L496.22 790.12L499.37 789.41L502.51 788.71L505.65 788.02L508.79 787.34L511.93 786.67L515.08 786L518.22 785.35L521.36 784.7L524.5 784.06L527.64 783.42L530.79 782.8L533.93 782.18L537.07 781.57L540.21 780.96L543.35 780.37L546.49 779.78L549.64 779.2L552.78 778.62L555.92 778.05L559.06 777.49L562.2 776.94L565.35 776.39L568.49 775.85L571.63 775.31L574.77 774.78L577.91 774.26L581.06 773.74L584.2 773.23L587.34 772.73L590.48 772.23L593.62 771.73L596.77 771.24L599.91 770.76L603.05 770.29L606.19 769.82L609.33 769.35L612.48 768.89L615.62 768.44L618.76 767.99L621.9 767.54L625.04 767.1L628.18 766.67L631.33 766.24L634.47 765.81L637.61 765.39L640.75 764.98L643.89 764.57L647.04 764.16L650.18 763.76L653.32 763.37L656.46 762.97L659.6 762.59L662.75 762.2L665.89 761.82L669.03 761.45L672.17 761.08L675.31 760.71L678.46 760.35L681.6 759.99L684.74 759.64L687.88 759.29L691.02 758.94L694.16 758.6L697.31 758.26L700.45 757.93L703.59 757.59L706.73 757.27L709.87 756.94L713.02 756.62L716.16 756.31L719.3 755.99" stroke="#e020e0" stroke-width="2.7" fill="none" stroke-dasharray="2.2 2.2"/>
<path d="M82.58 1170.99L89.88 1180.19L82.58 1189.39L75.28 1180.19Z" stroke="#e020e0" stroke-width="2.6" fill="none"/>
<path d="M83.85 1157.62L91.15 1166.82L83.85 1176.02L76.55 1166.82Z" stroke="#e020e0" stroke-width="2.6" fill="none"/>
<path d="M85.13 1147.39L92.43 1156.59L85.13 1165.79L77.83 1156.59Z" stroke="#e020e0" stroke-width="2.6" fill="none"/>
<path d="M133.62 1005.13L140.92 1014.33L133.62 1023.53L126.32 1014.33Z" stroke="#e020e0" stroke-width="2.6" fill="none"/>
<path d="M184.66 936.7L191.96 945.9L184.66 955.1L177.36 945.9Z" stroke="#e020e0" stroke-width="2.6" fill="none"/>
<path d="M235.7 890.95L243 900.15L235.7 909.35L228.4 900.15Z" stroke="#e020e0" stroke-width="2.6" fill="none"/>
<path d="M286.74 857.38L294.04 866.58L286.74 875.78L279.44 866.58Z" stroke="#e020e0" stroke-width="2.6" fill="none"/>
<path d="M337.78 831.66L345.08 840.86L337.78 850.06L330.48 840.86Z" stroke="#e020e0" stroke-width="2.6" fill="none"/>
<path d="M388.82 811.42L396.12 820.62L388.82 829.82L381.52 820.62Z" stroke="#e020e0" stroke-width="2.6" fill="none"/>
<path d="M439.86 795.24L447.16 804.44L439.86 813.64L432.56 804.44Z" stroke="#e020e0" stroke-width="2.6" fill="none"/>
<path d="M490.9 782.14L498.2 791.34L490.9 800.54L483.6 791.34Z" stroke="#e020e0" stroke-width="2.6" fill="none"/>
<path d="M541.94 771.44L549.24 780.64L541.94 789.84L534.64 780.64Z" stroke="#e020e0" stroke-width="2.6" fill="none"/>
<path d="M592.98 762.63L600.28 771.83L592.98 781.03L585.68 771.83Z" stroke="#e020e0" stroke-width="2.6" fill="none"/>
<path d="M644.02 755.35L651.32 764.55L644.02 773.75L636.72 764.55Z" stroke="#e020e0" stroke-width="2.6" fill="none"/>
<path d="M695.06 749.3L702.36 758.5L695.06 767.7L687.76 758.5Z" stroke="#e020e0" stroke-width="2.6" fill="none"/>
<path d="M82.58 1187.42L82.77 1185.57L82.97 1183.84L83.16 1182.2L83.35 1180.66L83.55 1179.18L83.74 1177.77L83.94 1176.41L84.13 1175.11L84.33 1173.84L84.52 1172.62L84.72 1171.44L84.91 1170.28L85.11 1169.16L85.3 1168.07L85.5 1167.01L85.69 1165.96L85.88 1164.95L86.08 1163.95L86.27 1162.98L86.47 1162.02L86.66 1161.08L86.86 1160.16L87.05 1159.26L87.25 1158.37L87.44 1157.49L87.64 1156.63L87.83 1155.79L88.03 1154.95L88.22 1154.13L88.42 1153.32L88.61 1152.52L88.8 1151.73L89 1150.95L89.19 1150.19L89.39 1149.43L89.58 1148.68L89.78 1147.94L89.97 1147.21L90.17 1146.49L90.36 1145.77L90.56 1145.07L90.75 1144.37L90.95 1143.67L91.14 1142.99L91.33 1142.31L91.53 1141.64L91.72 1140.98L91.92 1140.32L92.11 1139.67L92.31 1139.02L92.5 1138.38L92.7 1137.75L92.89 1137.12L93.09 1136.5L93.28 1135.88L93.48 1135.27L93.67 1134.66L93.87 1134.06L94.06 1133.46L97.2 1124.4L100.34 1116.25L103.49 1108.78L106.63 1101.86L109.77 1095.4L112.91 1089.31L116.05 1083.55L119.2 1078.07L122.34 1072.84L125.48 1067.83L128.62 1063.03L131.76 1058.4L134.9 1053.94L138.05 1049.64L141.19 1045.47L144.33 1041.43L147.47 1037.51L150.61 1033.7L153.76 1030L156.9 1026.39L160.04 1022.88L163.18 1019.45L166.32 1016.11L169.47 1012.85L172.61 1009.66L175.75 1006.54L178.89 1003.48L182.03 1000.49L185.18 997.57L188.32 994.7L191.46 991.89L194.6 989.13L197.74 986.43L200.88 983.77L204.03 981.16L207.17 978.6L210.31 976.09L213.45 973.61L216.59 971.18L219.74 968.79L222.88 966.44L226.02 964.13L229.16 961.85L232.3 959.61L235.45 957.41L238.59 955.24L241.73 953.1L244.87 950.99L248.01 948.91L251.16 946.87L254.3 944.85L257.44 942.86L260.58 940.9L263.72 938.97L266.87 937.06L270.01 935.18L273.15 933.32L276.29 931.49L279.43 929.68L282.57 927.9L285.72 926.14L288.86 924.4L292 922.69L295.14 920.99L298.28 919.32L301.43 917.67L304.57 916.03L307.71 914.42L310.85 912.83L313.99 911.25L317.14 909.7L320.28 908.16L323.42 906.64L326.56 905.14L329.7 903.66L332.85 902.19L335.99 900.74L339.13 899.31L342.27 897.89L345.41 896.48L348.55 895.1L351.7 893.73L354.84 892.37L357.98 891.03L361.12 889.7L364.26 888.39L367.41 887.09L370.55 885.8L373.69 884.53L376.83 883.27L379.97 882.03L383.12 880.8L386.26 879.58L389.4 878.37L392.54 877.18L395.68 875.99L398.83 874.82L401.97 873.67L405.11 872.52L408.25 871.38L411.39 870.26L414.53 869.15L417.68 868.04L420.82 866.95L423.96 865.87L427.1 864.8L430.24 863.74L433.39 862.69L436.53 861.65L439.67 860.62L442.81 859.6L445.95 858.59L449.1 857.59L452.24 856.6L455.38 855.62L458.52 854.65L461.66 853.68L464.81 852.73L467.95 851.78L471.09 850.85L474.23 849.92L477.37 849L480.51 848.09L483.66 847.18L486.8 846.29L489.94 845.4L493.08 844.52L496.22 843.65L499.37 842.79L502.51 841.93L505.65 841.08L508.79 840.24L511.93 839.41L515.08 838.58L518.22 837.77L521.36 836.95L524.5 836.15L527.64 835.35L530.79 834.56L533.93 833.78L537.07 833L540.21 832.23L543.35 831.47L546.49 830.71L549.64 829.96L552.78 829.22L555.92 828.48L559.06 827.75L562.2 827.02L565.35 826.3L568.49 825.59L571.63 824.88L574.77 824.18L577.91 823.48L581.06 822.79L584.2 822.11L587.34 821.43L590.48 820.76L593.62 820.09L596.77 819.43L599.91 818.77L603.05 818.12L606.19 817.48L609.33 816.84L612.48 816.2L615.62 815.57L618.76 814.95L621.9 814.33L625.04 813.71L628.18 813.1L631.33 812.5L634.47 811.89L637.61 811.3L640.75 810.71L643.89 810.12L647.04 809.54L650.18 808.96L653.32 808.39L656.46 807.82L659.6 807.26L662.75 806.7L665.89 806.15L669.03 805.6L672.17 805.05L675.31 804.51L678.46 803.97L681.6 803.44L684.74 802.91L687.88 802.39L691.02 801.87L694.16 801.35L697.31 800.84L700.45 800.33L703.59 799.82L706.73 799.32L709.87 798.83L713.02 798.33L716.16 797.84L719.3 797.36" stroke="#22e822" stroke-width="2.7" fill="none"/>
<path d="M82.58 1179.72L84.32 1185.18L89.29 1185.45L85.41 1189.1L86.72 1194.73L82.58 1191.52L78.43 1194.73L79.75 1189.1L75.87 1185.45L80.83 1185.18Z" stroke="#22e822" stroke-width="2" fill="#22e822" stroke-linejoin="miter"/>
<path d="M83.85 1169.31L85.6 1174.78L90.56 1175.04L86.68 1178.69L88 1184.32L83.85 1181.11L79.71 1184.32L81.02 1178.69L77.14 1175.04L82.1 1174.78Z" stroke="#22e822" stroke-width="2" fill="#22e822" stroke-linejoin="miter"/>
<path d="M85.13 1161.34L86.88 1166.81L91.84 1167.08L87.96 1170.72L89.27 1176.36L85.13 1173.14L80.98 1176.36L82.3 1170.72L78.42 1167.08L83.38 1166.81Z" stroke="#22e822" stroke-width="2" fill="#22e822" stroke-linejoin="miter"/>
<path d="M133.62 1048.06L135.36 1053.52L140.33 1053.79L136.45 1057.44L137.76 1063.07L133.62 1059.86L129.47 1063.07L130.79 1057.44L126.91 1053.79L131.87 1053.52Z" stroke="#22e822" stroke-width="2" fill="#22e822" stroke-linejoin="miter"/>
<path d="M184.66 990.35L186.4 995.82L191.37 996.08L187.49 999.73L188.8 1005.36L184.66 1002.15L180.51 1005.36L181.83 999.73L177.95 996.08L182.91 995.82Z" stroke="#22e822" stroke-width="2" fill="#22e822" stroke-linejoin="miter"/>
<path d="M235.7 949.53L237.44 955L242.41 955.27L238.53 958.92L239.84 964.55L235.7 961.33L231.55 964.55L232.87 958.92L228.99 955.27L233.95 955Z" stroke="#22e822" stroke-width="2" fill="#22e822" stroke-linejoin="miter"/>
<path d="M286.74 917.87L288.48 923.34L293.45 923.61L289.57 927.26L290.88 932.89L286.74 929.67L282.59 932.89L283.91 927.26L280.03 923.61L284.99 923.34Z" stroke="#22e822" stroke-width="2" fill="#22e822" stroke-linejoin="miter"/>
<path d="M337.78 892.22L339.52 897.69L344.49 897.96L340.61 901.6L341.92 907.24L337.78 904.02L333.63 907.24L334.95 901.6L331.07 897.96L336.03 897.69Z" stroke="#22e822" stroke-width="2" fill="#22e822" stroke-linejoin="miter"/>
<path d="M388.82 870.89L390.56 876.36L395.53 876.63L391.65 880.28L392.96 885.91L388.82 882.69L384.67 885.91L385.99 880.28L382.11 876.63L387.07 876.36Z" stroke="#22e822" stroke-width="2" fill="#22e822" stroke-linejoin="miter"/>
<path d="M439.86 852.86L441.6 858.33L446.57 858.6L442.69 862.24L444 867.88L439.86 864.66L435.71 867.88L437.03 862.24L433.15 858.6L438.11 858.33Z" stroke="#22e822" stroke-width="2" fill="#22e822" stroke-linejoin="miter"/>
<path d="M490.9 837.43L492.64 842.9L497.61 843.17L493.73 846.82L495.04 852.45L490.9 849.23L486.75 852.45L488.07 846.82L484.19 843.17L489.15 842.9Z" stroke="#22e822" stroke-width="2" fill="#22e822" stroke-linejoin="miter"/>
<path d="M541.94 824.11L543.68 829.58L548.65 829.85L544.77 833.49L546.08 839.13L541.94 835.91L537.79 839.13L539.11 833.49L535.23 829.85L540.19 829.58Z" stroke="#22e822" stroke-width="2" fill="#22e822" stroke-linejoin="miter"/>
<path d="M592.98 812.53L594.72 818L599.69 818.26L595.81 821.91L597.12 827.54L592.98 824.33L588.83 827.54L590.15 821.91L586.27 818.26L591.23 818Z" stroke="#22e822" stroke-width="2" fill="#22e822" stroke-linejoin="miter"/>
<path d="M644.02 802.4L645.76 807.87L650.73 808.14L646.85 811.78L648.16 817.41L644.02 814.2L639.87 817.41L641.19 811.78L637.31 808.14L642.27 807.87Z" stroke="#22e822" stroke-width="2" fill="#22e822" stroke-linejoin="miter"/>
<path d="M695.06 793.5L696.8 798.97L701.77 799.24L697.89 802.89L699.2 808.52L695.06 805.3L690.91 808.52L692.23 802.89L688.35 799.24L693.31 798.97Z" stroke="#22e822" stroke-width="2" fill="#22e822" stroke-linejoin="miter"/>
<path d="M82.58 1193.01L82.77 1191.57L82.97 1190.22L83.16 1188.95L83.35 1187.74L83.55 1186.59L83.74 1185.49L83.94 1184.44L84.13 1183.42L84.33 1182.44L84.52 1181.48L84.72 1180.56L84.91 1179.66L85.11 1178.79L85.3 1177.94L85.5 1177.11L85.69 1176.29L85.88 1175.5L86.08 1174.72L86.27 1173.96L86.47 1173.22L86.66 1172.48L86.86 1171.76L87.05 1171.06L87.25 1170.36L87.44 1169.68L87.64 1169.01L87.83 1168.35L88.03 1167.7L88.22 1167.05L88.42 1166.42L88.61 1165.8L88.8 1165.18L89 1164.57L89.19 1163.97L89.39 1163.38L89.58 1162.8L89.78 1162.22L89.97 1161.64L90.17 1161.08L90.36 1160.52L90.56 1159.97L90.75 1159.42L90.95 1158.88L91.14 1158.34L91.33 1157.81L91.53 1157.29L91.72 1156.77L91.92 1156.25L92.11 1155.74L92.31 1155.24L92.5 1154.73L92.7 1154.24L92.89 1153.75L93.09 1153.26L93.28 1152.77L93.48 1152.29L93.67 1151.82L93.87 1151.34L94.06 1150.88L97.2 1143.77L100.34 1137.35L103.49 1131.46L106.63 1126L109.77 1120.88L112.91 1116.05L116.05 1111.47L119.2 1107.11L122.34 1102.94L125.48 1098.93L128.62 1095.08L131.76 1091.37L134.9 1087.78L138.05 1084.31L141.19 1080.94L144.33 1077.67L147.47 1074.49L150.61 1071.39L153.76 1068.38L156.9 1065.44L160.04 1062.56L163.18 1059.75L166.32 1057.01L169.47 1054.32L172.61 1051.69L175.75 1049.11L178.89 1046.59L182.03 1044.11L185.18 1041.67L188.32 1039.28L191.46 1036.94L194.6 1034.63L197.74 1032.36L200.88 1030.13L204.03 1027.94L207.17 1025.78L210.31 1023.65L213.45 1021.56L216.59 1019.49L219.74 1017.46L222.88 1015.46L226.02 1013.48L229.16 1011.54L232.3 1009.61L235.45 1007.72L238.59 1005.85L241.73 1004L244.87 1002.18L248.01 1000.38L251.16 998.61L254.3 996.85L257.44 995.12L260.58 993.41L263.72 991.72L266.87 990.04L270.01 988.39L273.15 986.76L276.29 985.14L279.43 983.54L282.57 981.96L285.72 980.4L288.86 978.85L292 977.32L295.14 975.81L298.28 974.31L301.43 972.83L304.57 971.36L307.71 969.91L310.85 968.47L313.99 967.05L317.14 965.64L320.28 964.24L323.42 962.86L326.56 961.49L329.7 960.14L332.85 958.79L335.99 957.46L339.13 956.14L342.27 954.84L345.41 953.54L348.55 952.26L351.7 950.99L354.84 949.73L357.98 948.48L361.12 947.24L364.26 946.02L367.41 944.8L370.55 943.59L373.69 942.4L376.83 941.21L379.97 940.04L383.12 938.87L386.26 937.72L389.4 936.57L392.54 935.43L395.68 934.3L398.83 933.19L401.97 932.08L405.11 930.98L408.25 929.88L411.39 928.8L414.53 927.73L417.68 926.66L420.82 925.6L423.96 924.55L427.1 923.51L430.24 922.48L433.39 921.45L436.53 920.43L439.67 919.42L442.81 918.42L445.95 917.42L449.1 916.43L452.24 915.45L455.38 914.48L458.52 913.51L461.66 912.55L464.81 911.6L467.95 910.66L471.09 909.72L474.23 908.78L477.37 907.86L480.51 906.94L483.66 906.03L486.8 905.12L489.94 904.22L493.08 903.33L496.22 902.44L499.37 901.56L502.51 900.69L505.65 899.82L508.79 898.95L511.93 898.1L515.08 897.24L518.22 896.4L521.36 895.56L524.5 894.72L527.64 893.89L530.79 893.07L533.93 892.25L537.07 891.44L540.21 890.63L543.35 889.83L546.49 889.03L549.64 888.24L552.78 887.46L555.92 886.67L559.06 885.9L562.2 885.13L565.35 884.36L568.49 883.6L571.63 882.84L574.77 882.09L577.91 881.34L581.06 880.6L584.2 879.86L587.34 879.13L590.48 878.4L593.62 877.68L596.77 876.96L599.91 876.24L603.05 875.53L606.19 874.82L609.33 874.12L612.48 873.42L615.62 872.73L618.76 872.04L621.9 871.35L625.04 870.67L628.18 870L631.33 869.32L634.47 868.65L637.61 867.99L640.75 867.33L643.89 866.67L647.04 866.02L650.18 865.37L653.32 864.72L656.46 864.08L659.6 863.44L662.75 862.81L665.89 862.18L669.03 861.55L672.17 860.93L675.31 860.31L678.46 859.69L681.6 859.08L684.74 858.47L687.88 857.86L691.02 857.26L694.16 856.66L697.31 856.07L700.45 855.48L703.59 854.89L706.73 854.3L709.87 853.72L713.02 853.14L716.16 852.57L719.3 851.99" stroke="#1414d8" stroke-width="2.7" fill="none" stroke-dasharray="8.5 8"/>
<rect x="76.88" y="1187.31" width="11.4" height="11.4" stroke="#1414d8" stroke-width="2.6" fill="none"/>
<rect x="78.15" y="1179.2" width="11.4" height="11.4" stroke="#1414d8" stroke-width="2.6" fill="none"/>
<rect x="79.43" y="1172.99" width="11.4" height="11.4" stroke="#1414d8" stroke-width="2.6" fill="none"/>
<rect x="127.92" y="1083.54" width="11.4" height="11.4" stroke="#1414d8" stroke-width="2.6" fill="none"/>
<rect x="178.96" y="1036.37" width="11.4" height="11.4" stroke="#1414d8" stroke-width="2.6" fill="none"/>
<rect x="230" y="1001.87" width="11.4" height="11.4" stroke="#1414d8" stroke-width="2.6" fill="none"/>
<rect x="281.04" y="974.2" width="11.4" height="11.4" stroke="#1414d8" stroke-width="2.6" fill="none"/>
<rect x="332.08" y="951.01" width="11.4" height="11.4" stroke="#1414d8" stroke-width="2.6" fill="none"/>
<rect x="383.12" y="931.08" width="11.4" height="11.4" stroke="#1414d8" stroke-width="2.6" fill="none"/>
<rect x="434.16" y="913.66" width="11.4" height="11.4" stroke="#1414d8" stroke-width="2.6" fill="none"/>
<rect x="485.2" y="898.25" width="11.4" height="11.4" stroke="#1414d8" stroke-width="2.6" fill="none"/>
<rect x="536.24" y="884.49" width="11.4" height="11.4" stroke="#1414d8" stroke-width="2.6" fill="none"/>
<rect x="587.28" y="872.12" width="11.4" height="11.4" stroke="#1414d8" stroke-width="2.6" fill="none"/>
<rect x="638.32" y="860.95" width="11.4" height="11.4" stroke="#1414d8" stroke-width="2.6" fill="none"/>
<rect x="689.36" y="850.79" width="11.4" height="11.4" stroke="#1414d8" stroke-width="2.6" fill="none"/>
<rect x="467.7" y="1050.6" width="237.5" height="148.5" fill="#fff" stroke="#666" stroke-width="1.6"/>
<path d="M476.2 1067.4H519.2" stroke="#000000" stroke-width="2.7"/>
<path d="M490.6 1061.1L503.2 1073.7M490.6 1073.7L503.2 1061.1" stroke="#000000" stroke-width="2.6" fill="none"/>
<text x="522.5" y="1076.7" class="lg">m=-3.08, I=-8.61</text>
<path d="M476.2 1096.2h8.3M510.7 1096.2h8.5M490.9 1096.2h12" stroke="#e01818" stroke-width="2.7"/>
<circle cx="496.9" cy="1096.2" r="6.8" stroke="#e01818" stroke-width="2.6" fill="none"/>
<text x="522.5" y="1105.5" class="lg">m=-3.13, I=-8.11</text>
<path d="M476.2 1125H519.2" stroke="#e020e0" stroke-width="2.7" stroke-dasharray="2.2 2.2"/>
<path d="M496.9 1115.8L504.2 1125L496.9 1134.2L489.6 1125Z" stroke="#e020e0" stroke-width="2.6" fill="none"/>
<text x="522.5" y="1134.3" class="lg">m=-3.18, I=-7.61</text>
<path d="M476.2 1153.8H519.2" stroke="#22e822" stroke-width="2.7"/>
<path d="M496.9 1146.1L498.65 1151.57L503.61 1151.84L499.73 1155.48L501.05 1161.11L496.9 1157.9L492.75 1161.11L494.07 1155.48L490.19 1151.84L495.15 1151.57Z" stroke="#22e822" stroke-width="2" fill="#22e822" stroke-linejoin="miter"/>
<text x="522.5" y="1163.1" class="lg">m=-3.23, I=-7.11</text>
<path d="M476.2 1182.6h8.3M510.7 1182.6h8.5M490.9 1182.6h12" stroke="#1414d8" stroke-width="2.7"/>
<rect x="491.2" y="1176.9" width="11.4" height="11.4" stroke="#1414d8" stroke-width="2.6" fill="none"/>
<text x="522.5" y="1191.9" class="lg">m=-3.28, I=-6.61</text>
<path d="M268.58 86.42L374.69 284.65L367.64 288.42L392 295.8L399.38 271.44L392.32 275.21L286.22 76.98Z" fill="#ed7d31" stroke="#fff" stroke-width="12" stroke-linejoin="miter" paint-order="stroke"/>
<path d="M268.58 86.42L374.69 284.65L367.64 288.42L392 295.8L399.38 271.44L392.32 275.21L286.22 76.98Z" fill="#ed7d31"/>
<path d="M226.88 777.21L332.5 974.84L325.44 978.61L349.8 986L357.19 961.64L350.14 965.41L244.52 767.79Z" fill="#ed7d31" stroke="#fff" stroke-width="12" stroke-linejoin="miter" paint-order="stroke"/>
<path d="M226.88 777.21L332.5 974.84L325.44 978.61L349.8 986L357.19 961.64L350.14 965.41L244.52 767.79Z" fill="#ed7d31"/>
<circle cx="152.6" cy="205.8" r="15" fill="url(#bg)" filter="url(#sh)"/>
<circle cx="153.6" cy="310.7" r="15" fill="url(#bg)" filter="url(#sh)"/>
<circle cx="264.1" cy="204.4" r="15" fill="url(#bg)" filter="url(#sh)"/>
<path d="M145.2 237.2H159.8V273.3H168.2L152.5 288.5L136.8 273.3H145.2Z" fill="#5b9bd5" stroke="#41719c" stroke-width="1.8"/>
<path d="M180.45 293.12L245.11 229.59L250.02 234.58L251.6 215.5L232.5 216.75L237.4 221.74L172.75 285.28Z" fill="#5b9bd5" stroke="#41719c" stroke-width="1.8"/>
<text x="96" y="184" class="big">A</text>
<text x="163.5" y="356" class="big">B</text>
<text x="277" y="234.5" class="big">C</text>
<text x="397.5" y="338.6" class="big or">After cycling</text>
<text x="397.5" y="1009" class="big or">After cycling</text>
<text x="11" y="31.5" class="lab">(a)</text>
<text x="10.5" y="683" class="lab">(b)</text>
<text x="246.3" y="41.5" class="ttl">Film-type, Li</text><text x="390" y="52.4" class="ttl sub">3</text><text x="401" y="41.5" class="ttl">PO</text><text x="438.1" y="52.4" class="ttl sub">4</text><text x="453.9" y="41.5" class="ttl">- LiCoO</text><text x="546.5" y="52.4" class="ttl sub">2</text>
<text x="270.4" y="705" class="ttl">Bulk-type, LGPS - TiS</text><text x="518.7" y="714.5" class="ttl sub">2</text>
<text transform="translate(20,306) rotate(-90)" text-anchor="middle" class="yl">A/A<tspan dy="13" font-size="17">0</tspan></text>
<text transform="translate(20,969) rotate(-90)" text-anchor="middle" class="yl">A/A<tspan dy="13" font-size="17">0</tspan></text>
<text x="400" y="610" text-anchor="middle" class="xl"><tspan font-style="italic">σ</tspan> (MPa)</text>
<text x="400" y="1274.5" text-anchor="middle" class="xl"><tspan font-style="italic">σ</tspan> (MPa)</text>
</svg>
</body></html>
